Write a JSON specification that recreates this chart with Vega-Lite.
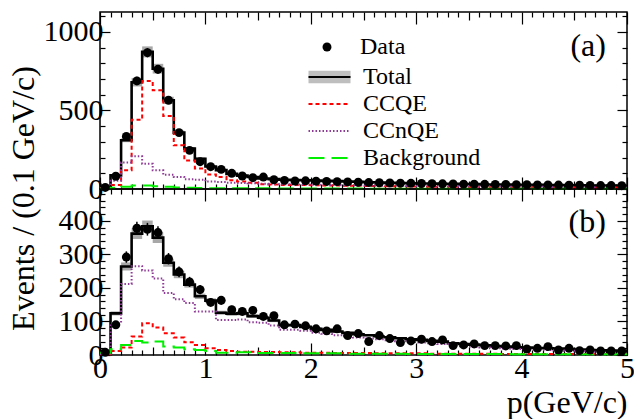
{
  "$schema": "https://vega.github.io/schema/vega-lite/v6.json",
  "padding": {"left": 6, "top": 10, "right": 0, "bottom": 0},
  "spacing": 0,
  "bounds": "flush",
  "datasets": {
    "a": [
      {"lo":0,"mid":0.05,"hi":0.1,"Data":10,"Total":10,"CCQE":5,"CCnQE":3,"Background":2,"tlo":8,"thi":12,"derr":3},
      {"lo":0.1,"mid":0.15,"hi":0.2,"Data":81,"Total":87,"CCQE":25,"CCnQE":52,"Background":8,"tlo":84,"thi":90,"derr":9},
      {"lo":0.2,"mid":0.25,"hi":0.3,"Data":335,"Total":310,"CCQE":119,"CCnQE":168,"Background":15,"tlo":298,"thi":322,"derr":18},
      {"lo":0.3,"mid":0.35,"hi":0.4,"Data":688,"Total":680,"CCQE":441,"CCnQE":208,"Background":22,"tlo":653,"thi":707,"derr":26},
      {"lo":0.4,"mid":0.45,"hi":0.5,"Data":868,"Total":873,"CCQE":688,"CCnQE":161,"Background":22,"tlo":838,"thi":908,"derr":29},
      {"lo":0.5,"mid":0.55,"hi":0.6,"Data":762,"Total":766,"CCQE":628,"CCnQE":119,"Background":17,"tlo":735,"thi":797,"derr":28},
      {"lo":0.6,"mid":0.65,"hi":0.7,"Data":565,"Total":565,"CCQE":465,"CCnQE":91,"Background":14,"tlo":542,"thi":588,"derr":24},
      {"lo":0.7,"mid":0.75,"hi":0.8,"Data":359,"Total":359,"CCQE":278,"CCnQE":76,"Background":10,"tlo":345,"thi":373,"derr":19},
      {"lo":0.8,"mid":0.85,"hi":0.9,"Data":246,"Total":257,"CCQE":181,"CCnQE":62,"Background":8,"tlo":247,"thi":267,"derr":16},
      {"lo":0.9,"mid":0.95,"hi":1.0,"Data":174,"Total":193,"CCQE":130,"CCnQE":59,"Background":6,"tlo":185,"thi":201,"derr":13},
      {"lo":1.0,"mid":1.05,"hi":1.1,"Data":142,"Total":143,"CCQE":93,"CCnQE":48,"Background":5,"tlo":137,"thi":149,"derr":12},
      {"lo":1.1,"mid":1.15,"hi":1.2,"Data":125,"Total":120,"CCQE":76,"CCnQE":45,"Background":5,"tlo":115,"thi":125,"derr":11},
      {"lo":1.2,"mid":1.25,"hi":1.3,"Data":100,"Total":96,"CCQE":55,"CCnQE":40,"Background":5,"tlo":92,"thi":100,"derr":10},
      {"lo":1.3,"mid":1.35,"hi":1.4,"Data":83,"Total":85,"CCQE":48,"CCnQE":38,"Background":5,"tlo":82,"thi":88,"derr":9},
      {"lo":1.4,"mid":1.45,"hi":1.5,"Data":72,"Total":76,"CCQE":40,"CCnQE":36,"Background":4,"tlo":73,"thi":79,"derr":8},
      {"lo":1.5,"mid":1.55,"hi":1.6,"Data":76,"Total":67,"CCQE":30,"CCnQE":33,"Background":4,"tlo":64,"thi":70,"derr":9},
      {"lo":1.6,"mid":1.65,"hi":1.7,"Data":59,"Total":63,"CCQE":29,"CCnQE":31,"Background":3,"tlo":60,"thi":66,"derr":8},
      {"lo":1.7,"mid":1.75,"hi":1.8,"Data":55,"Total":59,"CCQE":26,"CCnQE":30,"Background":3,"tlo":57,"thi":61,"derr":7},
      {"lo":1.8,"mid":1.85,"hi":1.9,"Data":51,"Total":57,"CCQE":26,"CCnQE":28,"Background":3,"tlo":55,"thi":59,"derr":7},
      {"lo":1.9,"mid":1.95,"hi":2.0,"Data":52,"Total":56,"CCQE":25,"CCnQE":28,"Background":3,"tlo":54,"thi":58,"derr":7},
      {"lo":2.0,"mid":2.05,"hi":2.1,"Data":50,"Total":54,"CCQE":24,"CCnQE":27,"Background":3,"tlo":52,"thi":56,"derr":7},
      {"lo":2.1,"mid":2.15,"hi":2.2,"Data":48,"Total":52,"CCQE":23,"CCnQE":26,"Background":3,"tlo":50,"thi":54,"derr":7},
      {"lo":2.2,"mid":2.25,"hi":2.3,"Data":47,"Total":50,"CCQE":22,"CCnQE":25,"Background":3,"tlo":48,"thi":52,"derr":7},
      {"lo":2.3,"mid":2.35,"hi":2.4,"Data":45,"Total":48,"CCQE":21,"CCnQE":24,"Background":3,"tlo":46,"thi":50,"derr":7},
      {"lo":2.4,"mid":2.45,"hi":2.5,"Data":43,"Total":46,"CCQE":20,"CCnQE":23,"Background":3,"tlo":44,"thi":48,"derr":7},
      {"lo":2.5,"mid":2.55,"hi":2.6,"Data":41,"Total":43,"CCQE":19,"CCnQE":22,"Background":2,"tlo":41,"thi":45,"derr":6},
      {"lo":2.6,"mid":2.65,"hi":2.7,"Data":40,"Total":41,"CCQE":18,"CCnQE":21,"Background":2,"tlo":39,"thi":43,"derr":6},
      {"lo":2.7,"mid":2.75,"hi":2.8,"Data":38,"Total":39,"CCQE":17,"CCnQE":20,"Background":2,"tlo":37,"thi":41,"derr":6},
      {"lo":2.8,"mid":2.85,"hi":2.9,"Data":37,"Total":38,"CCQE":16,"CCnQE":20,"Background":2,"tlo":36,"thi":40,"derr":6},
      {"lo":2.9,"mid":2.95,"hi":3.0,"Data":36,"Total":37,"CCQE":16,"CCnQE":19,"Background":2,"tlo":35,"thi":39,"derr":6},
      {"lo":3.0,"mid":3.05,"hi":3.1,"Data":35,"Total":35,"CCQE":15,"CCnQE":18,"Background":2,"tlo":33,"thi":37,"derr":6},
      {"lo":3.1,"mid":3.15,"hi":3.2,"Data":34,"Total":35,"CCQE":15,"CCnQE":18,"Background":2,"tlo":33,"thi":37,"derr":6},
      {"lo":3.2,"mid":3.25,"hi":3.3,"Data":33,"Total":33,"CCQE":14,"CCnQE":17,"Background":2,"tlo":31,"thi":35,"derr":6},
      {"lo":3.3,"mid":3.35,"hi":3.4,"Data":32,"Total":33,"CCQE":14,"CCnQE":17,"Background":2,"tlo":31,"thi":35,"derr":6},
      {"lo":3.4,"mid":3.45,"hi":3.5,"Data":31,"Total":31,"CCQE":13,"CCnQE":16,"Background":2,"tlo":29,"thi":33,"derr":6},
      {"lo":3.5,"mid":3.55,"hi":3.6,"Data":31,"Total":31,"CCQE":13,"CCnQE":16,"Background":2,"tlo":29,"thi":33,"derr":6},
      {"lo":3.6,"mid":3.65,"hi":3.7,"Data":30,"Total":29,"CCQE":12,"CCnQE":15,"Background":2,"tlo":27,"thi":31,"derr":5},
      {"lo":3.7,"mid":3.75,"hi":3.8,"Data":29,"Total":29,"CCQE":12,"CCnQE":15,"Background":2,"tlo":27,"thi":31,"derr":5},
      {"lo":3.8,"mid":3.85,"hi":3.9,"Data":29,"Total":29,"CCQE":12,"CCnQE":15,"Background":2,"tlo":27,"thi":31,"derr":5},
      {"lo":3.9,"mid":3.95,"hi":4.0,"Data":28,"Total":27,"CCQE":11,"CCnQE":14,"Background":2,"tlo":25,"thi":29,"derr":5},
      {"lo":4.0,"mid":4.05,"hi":4.1,"Data":27,"Total":27,"CCQE":11,"CCnQE":14,"Background":2,"tlo":25,"thi":29,"derr":5},
      {"lo":4.1,"mid":4.15,"hi":4.2,"Data":26,"Total":27,"CCQE":11,"CCnQE":14,"Background":2,"tlo":25,"thi":29,"derr":5},
      {"lo":4.2,"mid":4.25,"hi":4.3,"Data":26,"Total":25,"CCQE":10,"CCnQE":13,"Background":2,"tlo":23,"thi":27,"derr":5},
      {"lo":4.3,"mid":4.35,"hi":4.4,"Data":25,"Total":25,"CCQE":10,"CCnQE":13,"Background":2,"tlo":23,"thi":27,"derr":5},
      {"lo":4.4,"mid":4.45,"hi":4.5,"Data":24,"Total":24,"CCQE":10,"CCnQE":13,"Background":1,"tlo":22,"thi":26,"derr":5},
      {"lo":4.5,"mid":4.55,"hi":4.6,"Data":24,"Total":23,"CCQE":10,"CCnQE":12,"Background":1,"tlo":21,"thi":25,"derr":5},
      {"lo":4.6,"mid":4.65,"hi":4.7,"Data":23,"Total":22,"CCQE":9,"CCnQE":12,"Background":1,"tlo":20,"thi":24,"derr":5},
      {"lo":4.7,"mid":4.75,"hi":4.8,"Data":22,"Total":22,"CCQE":9,"CCnQE":12,"Background":1,"tlo":20,"thi":24,"derr":5},
      {"lo":4.8,"mid":4.85,"hi":4.9,"Data":22,"Total":22,"CCQE":9,"CCnQE":12,"Background":1,"tlo":20,"thi":24,"derr":5},
      {"lo":4.9,"mid":4.95,"hi":5.0,"Data":21,"Total":21,"CCQE":9,"CCnQE":11,"Background":1,"tlo":19,"thi":23,"derr":5},
      {"lo":5.0,"Total":21,"CCQE":9,"CCnQE":11,"Background":1}
    ],
    "b": [
      {"lo":0,"mid":0.05,"hi":0.1,"Data":8,"Total":12,"CCQE":2,"CCnQE":3,"Background":7,"tlo":10,"thi":14,"derr":3},
      {"lo":0.1,"mid":0.15,"hi":0.2,"Data":90,"Total":124,"CCQE":12,"CCnQE":95,"Background":17,"tlo":118,"thi":130,"derr":9},
      {"lo":0.2,"mid":0.25,"hi":0.3,"Data":292,"Total":264,"CCQE":22,"CCnQE":212,"Background":30,"tlo":252,"thi":276,"derr":17},
      {"lo":0.3,"mid":0.35,"hi":0.4,"Data":378,"Total":362,"CCQE":55,"CCnQE":265,"Background":42,"tlo":346,"thi":378,"derr":19},
      {"lo":0.4,"mid":0.45,"hi":0.5,"Data":375,"Total":384,"CCQE":95,"CCnQE":252,"Background":37,"tlo":367,"thi":401,"derr":19},
      {"lo":0.5,"mid":0.55,"hi":0.6,"Data":365,"Total":350,"CCQE":82,"CCnQE":228,"Background":40,"tlo":334,"thi":366,"derr":19},
      {"lo":0.6,"mid":0.65,"hi":0.7,"Data":287,"Total":275,"CCQE":65,"CCnQE":185,"Background":25,"tlo":263,"thi":287,"derr":17},
      {"lo":0.7,"mid":0.75,"hi":0.8,"Data":248,"Total":240,"CCQE":52,"CCnQE":166,"Background":22,"tlo":229,"thi":251,"derr":16},
      {"lo":0.8,"mid":0.85,"hi":0.9,"Data":218,"Total":210,"CCQE":38,"CCnQE":155,"Background":17,"tlo":201,"thi":219,"derr":15},
      {"lo":0.9,"mid":0.95,"hi":1.0,"Data":195,"Total":175,"CCQE":30,"CCnQE":130,"Background":15,"tlo":167,"thi":183,"derr":14},
      {"lo":1.0,"mid":1.05,"hi":1.1,"Data":157,"Total":162,"CCQE":20,"CCnQE":130,"Background":12,"tlo":155,"thi":169,"derr":13},
      {"lo":1.1,"mid":1.15,"hi":1.2,"Data":163,"Total":126,"CCQE":15,"CCnQE":104,"Background":7,"tlo":120,"thi":132,"derr":13},
      {"lo":1.2,"mid":1.25,"hi":1.3,"Data":135,"Total":123,"CCQE":12,"CCnQE":104,"Background":7,"tlo":117,"thi":129,"derr":12},
      {"lo":1.3,"mid":1.35,"hi":1.4,"Data":130,"Total":124,"CCQE":10,"CCnQE":106,"Background":8,"tlo":118,"thi":130,"derr":11},
      {"lo":1.4,"mid":1.45,"hi":1.5,"Data":133,"Total":116,"CCQE":10,"CCnQE":98,"Background":8,"tlo":111,"thi":121,"derr":12},
      {"lo":1.5,"mid":1.55,"hi":1.6,"Data":115,"Total":111,"CCQE":9,"CCnQE":96,"Background":6,"tlo":106,"thi":116,"derr":11},
      {"lo":1.6,"mid":1.65,"hi":1.7,"Data":117,"Total":103,"CCQE":9,"CCnQE":88,"Background":6,"tlo":98,"thi":108,"derr":11},
      {"lo":1.7,"mid":1.75,"hi":1.8,"Data":90,"Total":89,"CCQE":8,"CCnQE":75,"Background":6,"tlo":85,"thi":93,"derr":9},
      {"lo":1.8,"mid":1.85,"hi":1.9,"Data":92,"Total":89,"CCQE":8,"CCnQE":75,"Background":6,"tlo":85,"thi":93,"derr":10},
      {"lo":1.9,"mid":1.95,"hi":2.0,"Data":87,"Total":84,"CCQE":7,"CCnQE":72,"Background":5,"tlo":80,"thi":88,"derr":9},
      {"lo":2.0,"mid":2.05,"hi":2.1,"Data":78,"Total":78,"CCQE":7,"CCnQE":66,"Background":5,"tlo":74,"thi":82,"derr":9},
      {"lo":2.1,"mid":2.15,"hi":2.2,"Data":72,"Total":75,"CCQE":7,"CCnQE":63,"Background":5,"tlo":72,"thi":78,"derr":8},
      {"lo":2.2,"mid":2.25,"hi":2.3,"Data":78,"Total":70,"CCQE":6,"CCnQE":59,"Background":5,"tlo":67,"thi":73,"derr":9},
      {"lo":2.3,"mid":2.35,"hi":2.4,"Data":58,"Total":66,"CCQE":6,"CCnQE":56,"Background":4,"tlo":63,"thi":69,"derr":8},
      {"lo":2.4,"mid":2.45,"hi":2.5,"Data":64,"Total":62,"CCQE":6,"CCnQE":52,"Background":4,"tlo":59,"thi":65,"derr":8},
      {"lo":2.5,"mid":2.55,"hi":2.6,"Data":40,"Total":59,"CCQE":6,"CCnQE":49,"Background":4,"tlo":56,"thi":62,"derr":6},
      {"lo":2.6,"mid":2.65,"hi":2.7,"Data":58,"Total":56,"CCQE":5,"CCnQE":47,"Background":4,"tlo":53,"thi":59,"derr":8},
      {"lo":2.7,"mid":2.75,"hi":2.8,"Data":49,"Total":53,"CCQE":5,"CCnQE":44,"Background":4,"tlo":51,"thi":55,"derr":7},
      {"lo":2.8,"mid":2.85,"hi":2.9,"Data":37,"Total":50,"CCQE":5,"CCnQE":41,"Background":4,"tlo":48,"thi":52,"derr":6},
      {"lo":2.9,"mid":2.95,"hi":3.0,"Data":42,"Total":47,"CCQE":5,"CCnQE":39,"Background":3,"tlo":45,"thi":49,"derr":6},
      {"lo":3.0,"mid":3.05,"hi":3.1,"Data":47,"Total":45,"CCQE":5,"CCnQE":37,"Background":3,"tlo":43,"thi":47,"derr":7},
      {"lo":3.1,"mid":3.15,"hi":3.2,"Data":40,"Total":42,"CCQE":4,"CCnQE":35,"Background":3,"tlo":40,"thi":44,"derr":6},
      {"lo":3.2,"mid":3.25,"hi":3.3,"Data":45,"Total":40,"CCQE":4,"CCnQE":33,"Background":3,"tlo":38,"thi":42,"derr":7},
      {"lo":3.3,"mid":3.35,"hi":3.4,"Data":28,"Total":35,"CCQE":4,"CCnQE":28,"Background":3,"tlo":33,"thi":37,"derr":5},
      {"lo":3.4,"mid":3.45,"hi":3.5,"Data":30,"Total":33,"CCQE":4,"CCnQE":26,"Background":3,"tlo":31,"thi":35,"derr":5},
      {"lo":3.5,"mid":3.55,"hi":3.6,"Data":33,"Total":31,"CCQE":4,"CCnQE":24,"Background":3,"tlo":29,"thi":33,"derr":6},
      {"lo":3.6,"mid":3.65,"hi":3.7,"Data":28,"Total":29,"CCQE":4,"CCnQE":22,"Background":3,"tlo":27,"thi":31,"derr":5},
      {"lo":3.7,"mid":3.75,"hi":3.8,"Data":28,"Total":27,"CCQE":4,"CCnQE":20,"Background":3,"tlo":25,"thi":29,"derr":5},
      {"lo":3.8,"mid":3.85,"hi":3.9,"Data":27,"Total":25,"CCQE":3,"CCnQE":19,"Background":3,"tlo":23,"thi":27,"derr":5},
      {"lo":3.9,"mid":3.95,"hi":4.0,"Data":28,"Total":23,"CCQE":3,"CCnQE":18,"Background":2,"tlo":21,"thi":25,"derr":5},
      {"lo":4.0,"mid":4.05,"hi":4.1,"Data":18,"Total":22,"CCQE":3,"CCnQE":17,"Background":2,"tlo":20,"thi":24,"derr":4},
      {"lo":4.1,"mid":4.15,"hi":4.2,"Data":20,"Total":21,"CCQE":3,"CCnQE":16,"Background":2,"tlo":19,"thi":23,"derr":4},
      {"lo":4.2,"mid":4.25,"hi":4.3,"Data":25,"Total":20,"CCQE":3,"CCnQE":15,"Background":2,"tlo":18,"thi":22,"derr":5},
      {"lo":4.3,"mid":4.35,"hi":4.4,"Data":15,"Total":19,"CCQE":3,"CCnQE":14,"Background":2,"tlo":17,"thi":21,"derr":4},
      {"lo":4.4,"mid":4.45,"hi":4.5,"Data":20,"Total":18,"CCQE":3,"CCnQE":13,"Background":2,"tlo":16,"thi":20,"derr":4},
      {"lo":4.5,"mid":4.55,"hi":4.6,"Data":13,"Total":16,"CCQE":3,"CCnQE":11,"Background":2,"tlo":14,"thi":18,"derr":4},
      {"lo":4.6,"mid":4.65,"hi":4.7,"Data":15,"Total":15,"CCQE":3,"CCnQE":10,"Background":2,"tlo":13,"thi":17,"derr":4},
      {"lo":4.7,"mid":4.75,"hi":4.8,"Data":12,"Total":14,"CCQE":3,"CCnQE":9,"Background":2,"tlo":12,"thi":16,"derr":3},
      {"lo":4.8,"mid":4.85,"hi":4.9,"Data":12,"Total":13,"CCQE":3,"CCnQE":8,"Background":2,"tlo":11,"thi":15,"derr":3},
      {"lo":4.9,"mid":4.95,"hi":5.0,"Data":12,"Total":12,"CCQE":3,"CCnQE":7,"Background":2,"tlo":10,"thi":14,"derr":3},
      {"lo":5.0,"Total":12,"CCQE":3,"CCnQE":7,"Background":2}
    ]
  },
  "resolve": {
    "scale": {"x": "independent", "y": "independent", "color": "independent", "strokeDash": "independent", "shape": "independent", "fill": "independent"},
    "legend": {"color": "independent", "strokeDash": "independent", "shape": "independent", "fill": "independent"}
  },
  "vconcat": [
    {
      "width": 527,
      "height": 177,
      "data": {"name": "a"},
      "resolve": {"axis": {"x": "independent", "y": "independent"}},
      "layer": [
        {
          "transform": [{"filter": "isValid(datum.tlo)"}],
          "mark": {"type": "rect", "stroke": null},
          "encoding": {
            "x": {"field": "lo", "type": "quantitative", "scale": {"domain": [0, 5], "nice": false, "zero": false},
              "axis": {"orient": "bottom", "title": null, "labels": false, "values": [0,1,2,3,4,5], "tickSize": -12}},
            "x2": {"field": "hi"},
            "y": {"field": "tlo", "type": "quantitative", "scale": {"domain": [0, 1127], "nice": false},
              "axis": {"orient": "left", "title": "Events / (0.1 GeV/c)", "titleX": -77, "titleY": 186, "titleAngle": -90, "titleAlign": "center", "titleBaseline": "middle",
                "values": [0,500,1000], "format": "d", "labelFontSize": 30, "labelPadding": 7, "tickSize": -10}},
            "y2": {"field": "thi"},
            "fill": {"datum": "Total", "type": "nominal", "scale": {"range": ["#a8a8a8"]},
              "legend": {"title": null, "orient": "none", "legendX": 217.5, "legendY": 53, "symbolType": "M-2,-0.6H2V0.6H-2Z", "symbolSize": 441, "symbolStrokeWidth": 0, "symbolOpacity": 0.75, "labelFont": "Liberation Serif", "labelFontSize": 24, "labelOpacity": 0, "labelOffset": 21.5}}
          }
        },
        {
          "transform": [{"fold": ["Total", "CCQE", "CCnQE", "Background"], "as": ["series", "value"]}],
          "mark": {"type": "line", "interpolate": "step-after"},
          "encoding": {
            "x": {"field": "lo", "type": "quantitative",
              "axis": {"orient": "bottom", "title": null, "labels": false, "values": [0.5,1.5,2.5,3.5,4.5], "tickSize": -8}},
            "y": {"field": "value", "type": "quantitative",
              "axis": {"orient": "left", "title": null, "labels": false, "values": [100,200,300,400,600,700,800,900,1100], "tickSize": -5}},
            "color": {"field": "series", "type": "nominal",
              "scale": {"domain": ["Total", "CCQE", "CCnQE", "Background"], "range": ["#000000", "#ff0000", "#8e3a96", "#00ee00"]},
              "legend": {"title": null, "orient": "none", "legendX": 217.5, "legendY": 53, "symbolType": "M-2,0H2", "symbolSize": 441, "symbolStrokeWidth": 2, "labelFont": "Liberation Serif", "labelFontSize": 24, "labelColor": "black", "labelOffset": 21.5, "rowPadding": 3}},
            "strokeDash": {"field": "series", "type": "nominal",
              "scale": {"domain": ["Total", "CCQE", "CCnQE", "Background"], "range": [[1, 0], [4, 3], [1.5, 2], [16, 7]]},
              "legend": {"title": null, "orient": "none", "legendX": 217.5, "legendY": 53, "symbolType": "M-2,0H2", "symbolSize": 441, "symbolStrokeWidth": 2, "labelFont": "Liberation Serif", "labelFontSize": 24, "labelColor": "black", "labelOffset": 21.5, "rowPadding": 3}},
            "strokeWidth": {"condition": {"test": "datum.series === 'Total'", "value": 2.6}, "value": 2}
          }
        },
        {
          "transform": [{"filter": "isValid(datum.Data)"}],
          "mark": {"type": "errorbar", "color": "black", "thickness": 1.5},
          "encoding": {
            "x": {"field": "mid", "type": "quantitative", "axis": null},
            "y": {"field": "Data", "type": "quantitative", "axis": null},
            "yError": {"field": "derr"}
          }
        },
        {
          "transform": [{"filter": "isValid(datum.Data)"}],
          "mark": {"type": "point", "filled": true, "color": "black", "size": 80, "opacity": 1},
          "encoding": {
            "x": {"field": "mid", "type": "quantitative",
              "axis": {"orient": "top", "title": null, "labels": false, "values": [0,1,2,3,4,5], "tickSize": -12}},
            "y": {"field": "Data", "type": "quantitative",
              "axis": {"orient": "right", "title": null, "labels": false, "values": [0,500,1000], "tickSize": -10}},
            "shape": {"datum": "Data", "type": "nominal", "scale": {"range": ["circle"]},
              "legend": {"title": null, "orient": "none", "legendX": 215, "legendY": 23, "symbolSize": 80, "symbolFillColor": "black", "symbolStrokeColor": "black", "labelFont": "Liberation Serif", "labelFontSize": 24, "labelColor": "black", "labelOffset": 21}}
          }
        },
        {
          "transform": [{"filter": "isValid(datum.Data)"}],
          "mark": {"type": "point", "opacity": 0},
          "encoding": {
            "x": {"field": "mid", "type": "quantitative",
              "axis": {"orient": "top", "title": null, "labels": false, "values": [0.5,1.5,2.5,3.5,4.5], "tickSize": -8}},
            "y": {"field": "Data", "type": "quantitative",
              "axis": {"orient": "right", "title": null, "labels": false, "values": [100,200,300,400,600,700,800,900,1100], "tickSize": -5}}
          }
        },
        {
          "transform": [{"filter": "isValid(datum.Data)"}],
          "mark": {"type": "point", "opacity": 0},
          "encoding": {
            "x": {"field": "mid", "type": "quantitative",
              "axis": {"orient": "bottom", "title": null, "labels": false, "tickSize": -5,
                "values": [0.1,0.2,0.3,0.4,0.6,0.7,0.8,0.9,1.1,1.2,1.3,1.4,1.6,1.7,1.8,1.9,2.1,2.2,2.3,2.4,2.6,2.7,2.8,2.9,3.1,3.2,3.3,3.4,3.6,3.7,3.8,3.9,4.1,4.2,4.3,4.4,4.6,4.7,4.8,4.9]}},
            "y": {"field": "Data", "type": "quantitative", "axis": null}
          }
        },
        {
          "transform": [{"filter": "isValid(datum.Data)"}],
          "mark": {"type": "point", "opacity": 0},
          "encoding": {
            "x": {"field": "mid", "type": "quantitative",
              "axis": {"orient": "top", "title": null, "labels": false, "tickSize": -5,
                "values": [0.1,0.2,0.3,0.4,0.6,0.7,0.8,0.9,1.1,1.2,1.3,1.4,1.6,1.7,1.8,1.9,2.1,2.2,2.3,2.4,2.6,2.7,2.8,2.9,3.1,3.2,3.3,3.4,3.6,3.7,3.8,3.9,4.1,4.2,4.3,4.4,4.6,4.7,4.8,4.9]}},
            "y": {"field": "Data", "type": "quantitative", "axis": null}
          }
        },
        {
          "transform": [{"filter": "datum.lo === 0"}],
          "mark": {"type": "text", "text": "(a)", "align": "right", "baseline": "top", "font": "Liberation Serif", "fontSize": 32, "fontWeight": "normal", "color": "black"},
          "encoding": {
            "x": {"datum": 4.8, "type": "quantitative", "axis": null},
            "y": {"datum": 1006, "type": "quantitative", "axis": null}
          }
        }
      ]
    },
    {
      "width": 527,
      "height": 166,
      "data": {"name": "b"},
      "resolve": {"axis": {"x": "independent", "y": "independent"}},
      "layer": [
        {
          "transform": [{"filter": "isValid(datum.tlo)"}],
          "mark": {"type": "rect", "fill": "#a8a8a8", "stroke": null},
          "encoding": {
            "x": {"field": "lo", "type": "quantitative", "scale": {"domain": [0, 5], "nice": false, "zero": false},
              "axis": {"orient": "bottom", "title": "p(GeV/c)", "titleAnchor": "end", "titleAlign": "right", "titleX": 527, "titleY": 57, "titleBaseline": "alphabetic",
                "format": "d", "labelFontSize": 30, "labelFlush": false, "labelPadding": 10, "values": [0,1,2,3,4,5], "tickSize": -12}},
            "x2": {"field": "hi"},
            "y": {"field": "tlo", "type": "quantitative", "scale": {"domain": [0, 495], "nice": false},
              "axis": {"orient": "left", "title": null, "values": [0,100,200,300,400], "format": "d", "labelFontSize": 30, "labelPadding": 7, "tickSize": -10}},
            "y2": {"field": "thi"}
          }
        },
        {
          "transform": [{"fold": ["Total", "CCQE", "CCnQE", "Background"], "as": ["series", "value"]}],
          "mark": {"type": "line", "interpolate": "step-after"},
          "encoding": {
            "x": {"field": "lo", "type": "quantitative",
              "axis": {"orient": "bottom", "title": null, "labels": false, "values": [0.5,1.5,2.5,3.5,4.5], "tickSize": -8}},
            "y": {"field": "value", "type": "quantitative",
              "axis": {"orient": "left", "title": null, "labels": false, "tickSize": -5,
                "values": [20,40,60,80,120,140,160,180,220,240,260,280,320,340,360,380,420,440,460,480]}},
            "color": {"field": "series", "type": "nominal", "legend": null,
              "scale": {"domain": ["Total", "CCQE", "CCnQE", "Background"], "range": ["#000000", "#ff0000", "#8e3a96", "#00ee00"]}},
            "strokeDash": {"field": "series", "type": "nominal", "legend": null,
              "scale": {"domain": ["Total", "CCQE", "CCnQE", "Background"], "range": [[1, 0], [4, 3], [1.5, 2], [16, 7]]}},
            "strokeWidth": {"condition": {"test": "datum.series === 'Total'", "value": 2.6}, "value": 2}
          }
        },
        {
          "transform": [{"filter": "isValid(datum.Data)"}],
          "mark": {"type": "errorbar", "color": "black", "thickness": 1.5},
          "encoding": {
            "x": {"field": "mid", "type": "quantitative", "axis": null},
            "y": {"field": "Data", "type": "quantitative", "axis": null},
            "yError": {"field": "derr"}
          }
        },
        {
          "transform": [{"filter": "isValid(datum.Data)"}],
          "mark": {"type": "point", "filled": true, "color": "black", "size": 80, "opacity": 1},
          "encoding": {
            "x": {"field": "mid", "type": "quantitative",
              "axis": {"orient": "top", "title": null, "labels": false, "values": [0,1,2,3,4,5], "tickSize": -12}},
            "y": {"field": "Data", "type": "quantitative",
              "axis": {"orient": "right", "title": null, "labels": false, "values": [0,100,200,300,400], "tickSize": -10}}
          }
        },
        {
          "transform": [{"filter": "isValid(datum.Data)"}],
          "mark": {"type": "point", "opacity": 0},
          "encoding": {
            "x": {"field": "mid", "type": "quantitative",
              "axis": {"orient": "top", "title": null, "labels": false, "values": [0.5,1.5,2.5,3.5,4.5], "tickSize": -8}},
            "y": {"field": "Data", "type": "quantitative",
              "axis": {"orient": "right", "title": null, "labels": false, "tickSize": -5,
                "values": [20,40,60,80,120,140,160,180,220,240,260,280,320,340,360,380,420,440,460,480]}}
          }
        },
        {
          "transform": [{"filter": "isValid(datum.Data)"}],
          "mark": {"type": "point", "opacity": 0},
          "encoding": {
            "x": {"field": "mid", "type": "quantitative",
              "axis": {"orient": "bottom", "title": null, "labels": false, "tickSize": -5,
                "values": [0.1,0.2,0.3,0.4,0.6,0.7,0.8,0.9,1.1,1.2,1.3,1.4,1.6,1.7,1.8,1.9,2.1,2.2,2.3,2.4,2.6,2.7,2.8,2.9,3.1,3.2,3.3,3.4,3.6,3.7,3.8,3.9,4.1,4.2,4.3,4.4,4.6,4.7,4.8,4.9]}},
            "y": {"field": "Data", "type": "quantitative", "axis": null}
          }
        },
        {
          "transform": [{"filter": "isValid(datum.Data)"}],
          "mark": {"type": "point", "opacity": 0},
          "encoding": {
            "x": {"field": "mid", "type": "quantitative",
              "axis": {"orient": "top", "title": null, "labels": false, "tickSize": -5,
                "values": [0.1,0.2,0.3,0.4,0.6,0.7,0.8,0.9,1.1,1.2,1.3,1.4,1.6,1.7,1.8,1.9,2.1,2.2,2.3,2.4,2.6,2.7,2.8,2.9,3.1,3.2,3.3,3.4,3.6,3.7,3.8,3.9,4.1,4.2,4.3,4.4,4.6,4.7,4.8,4.9]}},
            "y": {"field": "Data", "type": "quantitative", "axis": null}
          }
        },
        {
          "transform": [{"filter": "datum.lo === 0"}],
          "mark": {"type": "text", "text": "(b)", "align": "right", "baseline": "top", "font": "Liberation Serif", "fontSize": 32, "fontWeight": "normal", "color": "black"},
          "encoding": {
            "x": {"datum": 4.8, "type": "quantitative", "axis": null},
            "y": {"datum": 441, "type": "quantitative", "axis": null}
          }
        }
      ]
    }
  ],
  "config": {
    "view": {"stroke": "black", "strokeWidth": 1.5},
    "axis": {"domain": false, "grid": false, "labelFont": "Liberation Serif", "labelFontSize": 30, "labelColor": "black", "tickColor": "black", "tickWidth": 1.2, "titleFont": "Liberation Serif", "titleFontSize": 32, "titleFontWeight": "normal", "titleColor": "black"},
    "legend": {"padding": 0}
  }
}
